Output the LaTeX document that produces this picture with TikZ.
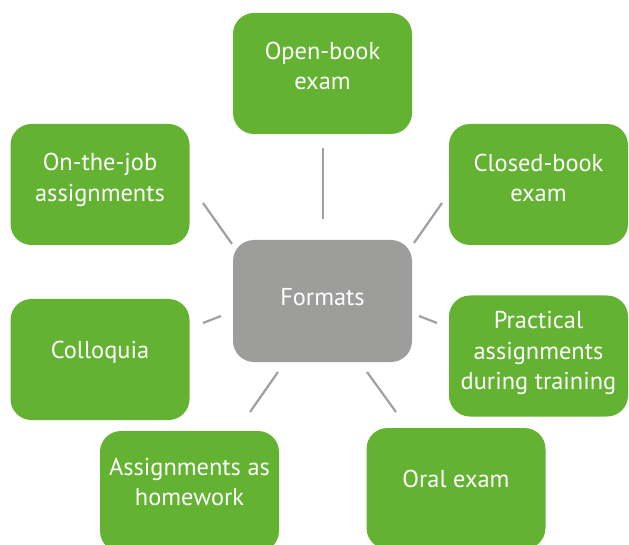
\documentclass[tikz,border=0pt]{standalone}
\usepackage{fontspec}
\setmainfont{PT Sans}
\definecolor{boxgreen}{RGB}{99,178,49}
\definecolor{boxgray}{RGB}{157,157,156}
\definecolor{linegray}{RGB}{160,160,160}
\begin{document}
\begin{tikzpicture}[x=1pt,y=-1pt,
  gbox/.style={draw=none,fill=boxgreen,rounded corners=21pt,minimum width=179pt,minimum height=121pt,inner sep=0pt},
  cbox/.style={draw=none,fill=boxgray,rounded corners=21pt,minimum width=179pt,minimum height=122pt,inner sep=0pt},
  txt/.style={text=white,align=center,inner sep=0pt,font=\fontsize{24.4}{30.5}\selectfont},
  conn/.style={draw=linegray,line width=2.2pt}]
\useasboundingbox (0,0) rectangle (629,545);
% boxes
\node[cbox] (fmt) at (322.5,301) {};
\node[gbox] (ob) at (322.5,73.5) {};
\node[gbox] (oj) at (100,184.5) {};
\node[gbox] (cb) at (538.5,184.5) {};
\node[gbox] (co) at (100,359.5) {};
\node[gbox] (pa) at (538.5,356) {};
\node[gbox] (hw) at (189.5,491.5) {};
\node[gbox] (oe) at (456,488.5) {};
% texts
\node[txt] (fmtt) at (322.5,297) {Formats};
\node[txt] (obt) at (322.5,66) {Open-book\\exam};
\node[txt] (ojt) at (100,180) {On-the-job\\assignments};
\node[txt] (cbt) at (538.5,178) {Closed-book\\exam};
\node[txt] (cot) at (100,352) {Colloquia};
\node[txt] (pat) at (538.5,353) {Practical\\assignments\\during training};
\node[txt] (hwt) at (189.5,482) {Assignments as\\homework};
\node[txt] (oet) at (456,479) {Oral exam};
% connector end points
\coordinate (c1a) at (323,148); \coordinate (c1b) at (323,219);
\coordinate (c2a) at (203,203); \coordinate (c2b) at (232,244);
\coordinate (c3a) at (442,203); \coordinate (c3b) at (414,243);
\coordinate (c4a) at (203,323); \coordinate (c4b) at (221,316);
\coordinate (c5a) at (278,372); \coordinate (c5b) at (250,412);
\coordinate (c6a) at (419,316); \coordinate (c6b) at (437,323);
\coordinate (c7a) at (367,372); \coordinate (c7b) at (396,412);
\draw[conn] (c1a) -- (c1b);
\draw[conn] (c2a) -- (c2b);
\draw[conn] (c3a) -- (c3b);
\draw[conn] (c4a) -- (c4b);
\draw[conn] (c5a) -- (c5b);
\draw[conn] (c6a) -- (c6b);
\draw[conn] (c7a) -- (c7b);
\end{tikzpicture}
\end{document}
